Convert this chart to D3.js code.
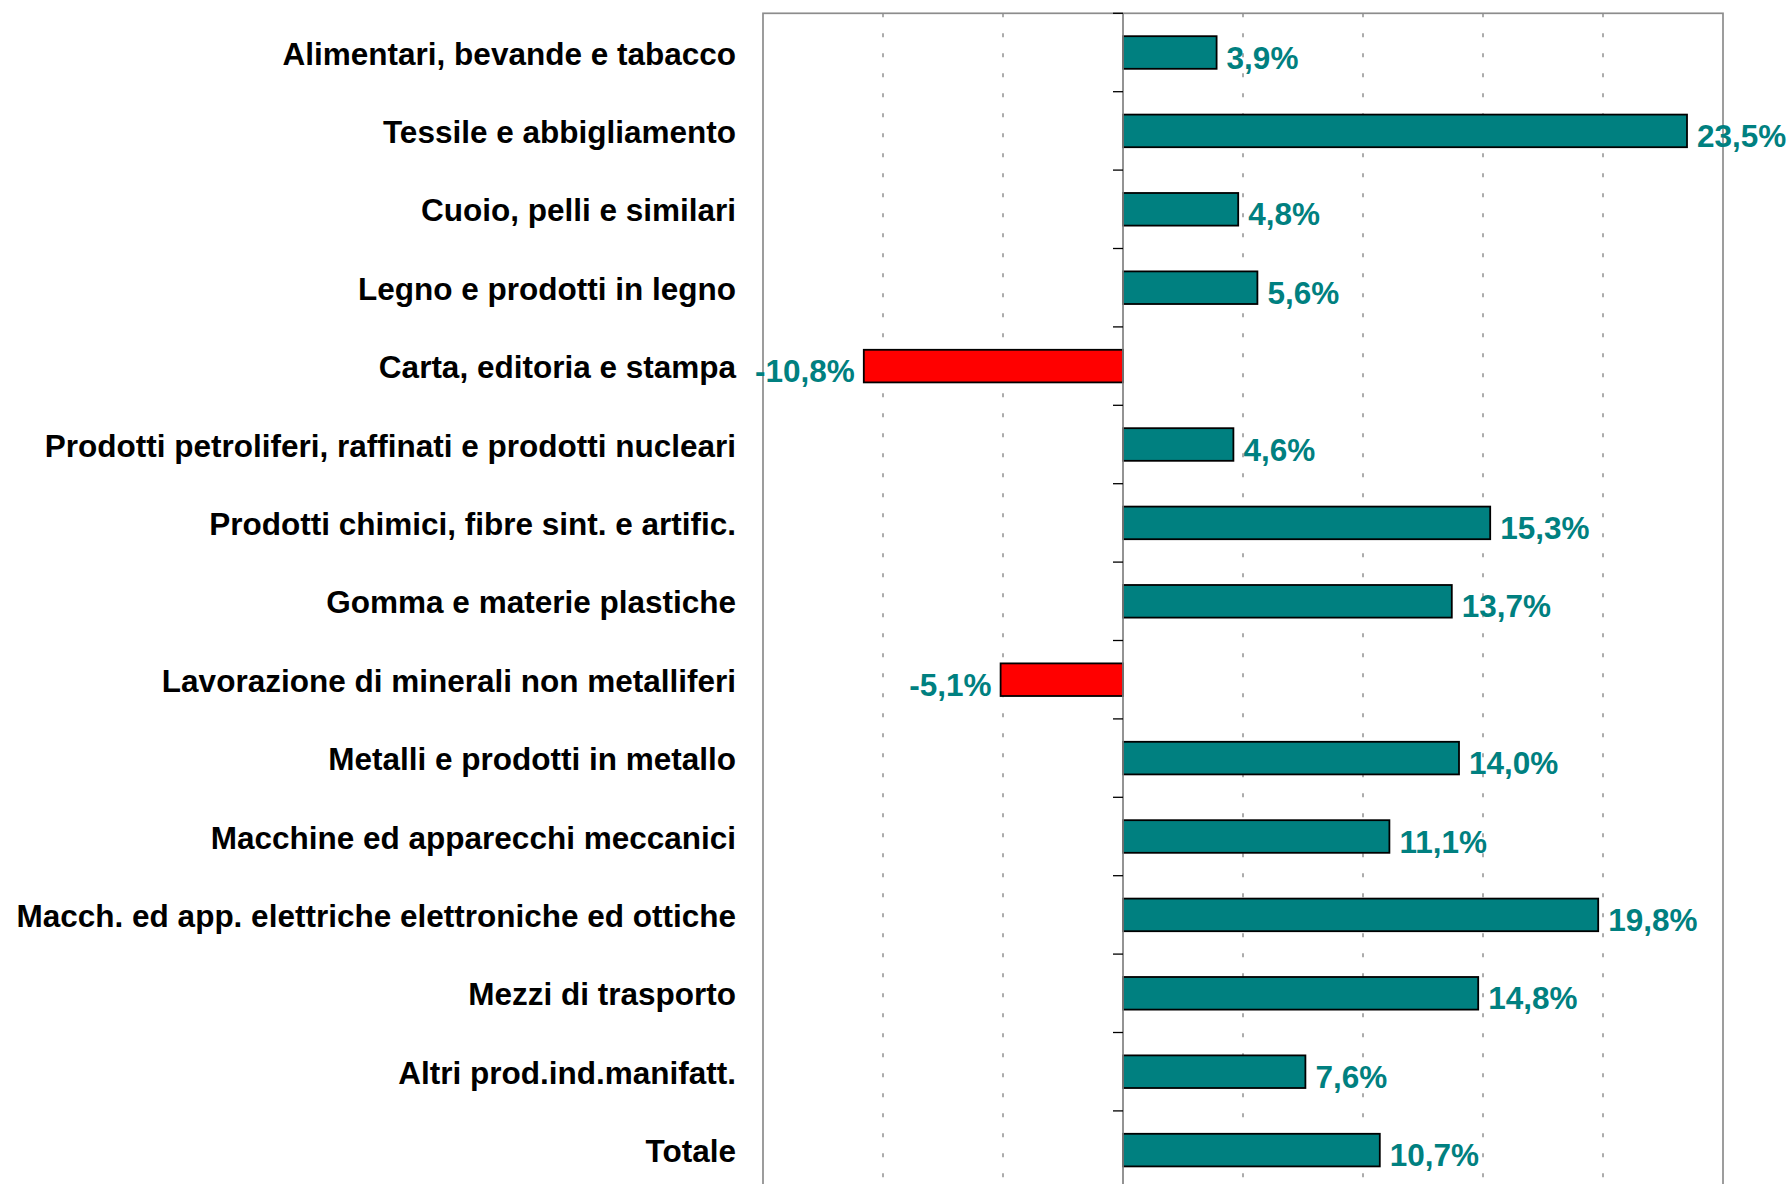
<!DOCTYPE html>
<html>
<head>
<meta charset="utf-8">
<script src="https://cdn.jsdelivr.net/npm/d3@7"></script>
<style>
  html, body { margin: 0; padding: 0; background: #fff; }
  svg { display: block; }
  text { font-family: "Liberation Sans", Arial, sans-serif; font-weight: bold; }
</style>
</head>
<body>
<div class="chart"></div>
<script>
var w = 1792;
var h = 1184;

// settori
var categories = [
  "Alimentari, bevande e tabacco",
  "Tessile e abbigliamento",
  "Cuoio, pelli e similari",
  "Legno e prodotti in legno",
  "Carta, editoria e stampa",
  "Prodotti petroliferi, raffinati e prodotti nucleari",
  "Prodotti chimici, fibre sint. e artific.",
  "Gomma e materie plastiche",
  "Lavorazione di minerali non metalliferi",
  "Metalli e prodotti in metallo",
  "Macchine ed apparecchi meccanici",
  "Macch. ed app. elettriche elettroniche ed ottiche",
  "Mezzi di trasporto",
  "Altri prod.ind.manifatt.",
  "Totale"
];

// variazione %
var values = [3.9, 23.5, 4.8, 5.6, -10.8, 4.6, 15.3, 13.7, -5.1, 14.0, 11.1, 19.8, 14.8, 7.6, 10.7];

var gridTicks = [-10, -5, 5, 10, 15, 20];

var data = categories.map(function (c, i) { return {cat: c, val: values[i]}; });

var plotLeft = 763, plotRight = 1723, plotTop = 13.3, plotBottom = 1189.3;

var x = d3.scaleLinear().domain([-15, 25]).range([plotLeft, plotRight]);
var y = d3.scaleBand().domain(categories)
          .range([plotTop, plotBottom])
          .paddingInner(0.584)
          .paddingOuter(0.292);

// formato italiano, col trattino normale per il meno
var it = d3.formatLocale({decimal: ",", thousands: ".", grouping: [3], currency: ["", " €"], minus: "-"});
var fmt = function (v) { return it.format(".1f")(v) + "%"; };

var svg = d3.select(".chart").append("svg")
            .attr("width", w)
            .attr("height", h);

// griglia verticale tratteggiata
svg.selectAll("line.grid")
   .data(gridTicks)
   .enter()
   .append("line")
   .attr("class", "grid")
   .attr("x1", function (d) { return x(d); })
   .attr("x2", function (d) { return x(d); })
   .attr("y1", plotTop)
   .attr("y2", plotBottom)
   .attr("stroke", "#808080")
   .attr("stroke-width", 1.3)
   .attr("stroke-dasharray", "4,16");

// cornice
svg.append("rect")
   .attr("x", x(-15))
   .attr("y", plotTop)
   .attr("width", x(25) - x(-15))
   .attr("height", plotBottom - plotTop)
   .attr("fill", "none")
   .attr("stroke", "#8c8c8c")
   .attr("stroke-width", 1.7);

// barre
svg.selectAll("rect.bar")
   .data(data)
   .enter()
   .append("rect")
   .attr("class", "bar")
   .attr("x", function (d) { return x(Math.min(0, d.val)); })
   .attr("y", function (d) { return y(d.cat); })
   .attr("width", function (d) { return Math.abs(x(d.val) - x(0)); })
   .attr("height", y.bandwidth())
   .attr("fill", function (d) { return d.val < 0 ? "#ff0000" : "#008080"; })
   .attr("stroke", "#000")
   .attr("stroke-width", 1.8);

// asse dello zero
svg.append("line")
   .attr("x1", x(0)).attr("x2", x(0))
   .attr("y1", plotTop).attr("y2", plotBottom)
   .attr("stroke", "#808080")
   .attr("stroke-width", 1.7);

// tacche tra le categorie
var boundaries = d3.range(categories.length + 1).map(function (i) { return plotTop + i * y.step(); });
svg.selectAll("line.tick")
   .data(boundaries)
   .enter()
   .append("line")
   .attr("class", "tick")
   .attr("x1", x(0) - 10)
   .attr("x2", x(0))
   .attr("y1", function (d) { return d; })
   .attr("y2", function (d) { return d; })
   .attr("stroke", "#000")
   .attr("stroke-width", 1.3);

// etichette categorie
svg.selectAll("text.cat")
   .data(data)
   .enter()
   .append("text")
   .attr("class", "cat")
   .attr("x", plotLeft - 27)
   .attr("y", function (d) { return y(d.cat) + y.bandwidth() / 2 + 12; })
   .attr("text-anchor", "end")
   .attr("font-size", "31.5px")
   .attr("fill", "#000")
   .text(function (d) { return d.cat; });

// etichette valori
svg.selectAll("text.val")
   .data(data)
   .enter()
   .append("text")
   .attr("class", "val")
   .attr("x", function (d) { return d.val < 0 ? x(d.val) - 9 : x(d.val) + 10; })
   .attr("y", function (d) { return y(d.cat) + y.bandwidth() / 2 + 16; })
   .attr("text-anchor", function (d) { return d.val < 0 ? "end" : "start"; })
   .attr("font-size", "31.5px")
   .attr("fill", "#008080")
   .text(function (d) { return fmt(d.val); });
</script>
</body>
</html>
